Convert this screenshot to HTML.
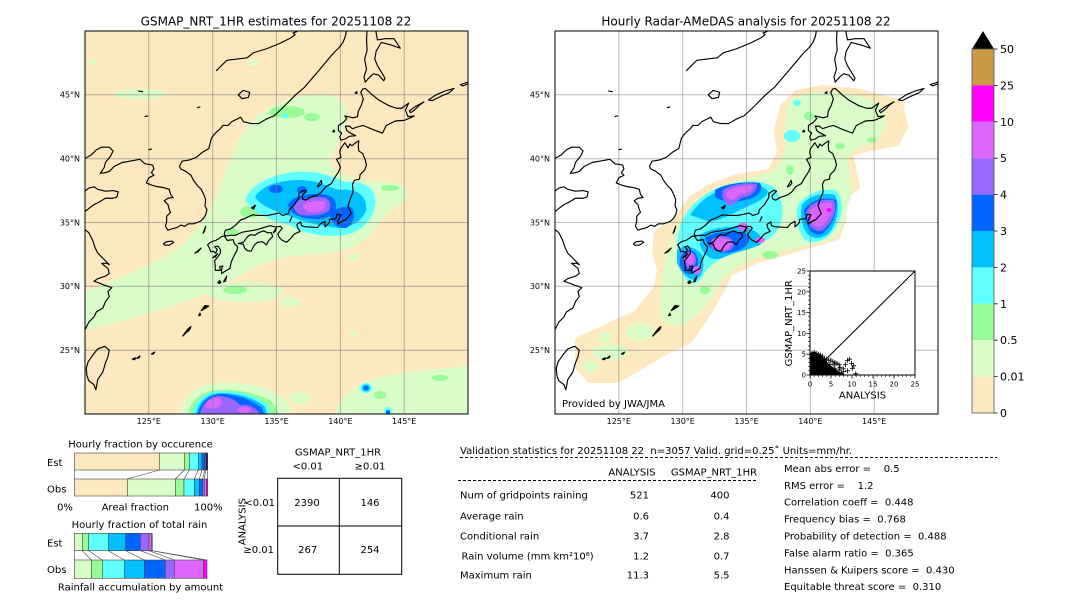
<!DOCTYPE html>
<html><head><meta charset="utf-8">
<style>
html,body{margin:0;padding:0;background:#fff;}
svg{display:block;font-family:"DejaVu Sans","Liberation Sans",sans-serif;}
</style></head><body>
<svg width="1080" height="612" viewBox="0 0 1080 612" xmlns="http://www.w3.org/2000/svg">
<defs>
<clipPath id="cl"><rect x="85" y="31" width="383" height="383"/></clipPath>
<clipPath id="cr"><rect x="555" y="31" width="383" height="383"/></clipPath>
<g id="coast" fill="none" stroke="#000" stroke-width="0.09" stroke-linejoin="round" stroke-linecap="round">
<path d="M120,26.6 L120.3,27.2 L120.7,27.6 L120.9,28 L121.4,28.3 L121.6,28.8 L121.9,29.2 L121.8,29.6 L122.1,29.9 L121.5,30.1 L121,30.3 L120.7,30.4 L121,30.6 L121.6,30.8 L121.9,31 L121.8,31.4 L121.3,31.8 L121.7,31.8 L121.9,31.7 L121.5,32.1 L121,32.6 L120.8,33 L120.6,33.6 L120.3,34.2 L119.8,34.6"/>
<path d="M119.7,35.6 L120.3,36.1 L120.7,36.4 L121.1,36.6 L121.6,36.9 L122.2,36.9 L122.5,37 L122.6,37.4 L122.2,37.5 L121.6,37.45 L121,37.6 L120.7,37.8 L120.3,37.7 L119.8,37.3"/>
<path d="M119.8,39.9 L120.5,40.3 L120.9,40.7 L121.3,40.9 L121.9,40.9 L122.2,40.6 L122,40.2 L121.6,39.7 L121.5,39.3 L121.2,38.85 L121.6,38.9 L121.9,39 L122.3,39.4 L122.9,39.7 L123.5,39.8 L124.3,39.95 L124.7,39.6 L125.3,39.5 L125.4,39.2 L125.2,38.9 L125.4,38.7 L125,38.5 L124.8,38.1 L125.3,37.9 L125.7,37.8 L126.1,37.75 L126.6,37.6 L126.7,37.2 L126.9,36.95 L126.5,36.9 L126.2,36.7 L126.5,36.4 L126.6,36 L126.7,35.8 L126.4,35.5 L126.4,35.1 L126.3,34.7 L126.5,34.4 L126.8,34.5 L127.2,34.6 L127.5,34.8 L127.8,34.7 L128.1,34.9 L128.5,34.9 L128.8,35 L129.05,35.1 L129.3,35.35 L129.45,35.6 L129.55,36 L129.4,36.3 L129.45,36.8 L129.3,37.2 L129.1,37.6 L128.8,37.9 L128.5,38.3 L128.3,38.7 L127.9,39 L127.5,39.2 L127.4,39.4 L127.6,39.8 L128.2,39.9 L128.7,40.1 L129.2,40.5 L129.7,40.8 L129.8,41.2 L129.9,41.6 L130.2,42 L130.6,42.35 L130.8,42.6 L131.2,42.6 L131.5,42.9 L131.9,43.1 L132.2,43.25 L132.4,42.9 L133,42.75 L133.6,42.75 L134.2,43.1 L134.8,43.35 L135.4,43.9 L135.9,44.4 L136.5,45 L137.2,45.6 L137.8,46.3 L138.4,47 L138.9,47.6 L139.4,48.2 L139.9,48.7 L140.2,49.1 L140.4,49.6 L140.5,50.2"/>
<path d="M130.3,46.9 L131.1,47.7 L131.9,47.8 L132.7,47.9 L133.2,48.3 L134.2,48.6 L135.3,49.05 L136.1,49.45 L136.45,49.7 L136.3,49.85 L136.6,49.95 L136.7,50.2"/>
<path d="M132,45 L132.4,45.35 L132.9,45.2 L132.8,44.8 L132.3,44.7 Z"/>
<path d="M141.45,41.4 L141.2,41.25 L140.9,41 L140.75,41.15 L140.6,40.85 L140.35,41.25 L140,40.75 L139.95,40.5 L140.05,40.1 L139.7,39.95 L139.9,39.6 L140,39.3 L139.85,38.95 L139.55,38.5 L139.3,38.05 L138.85,37.8 L138.55,37.4 L138.2,37.15 L137.6,36.95 L137.3,36.75 L137.05,36.85 L137,37.1 L137.35,37.45 L137.15,37.52 L136.75,37.3 L136.75,36.95 L136.4,36.4 L136,36 L135.95,35.7 L135.5,35.55 L135.2,35.75 L134.8,35.65 L134.3,35.55 L133.6,35.55 L133.1,35.6 L132.6,35.35 L132.2,35.2 L131.8,34.8 L131.4,34.5 L131,34.4 L130.9,34.1 L131,33.95 L131.4,34 L131.8,34 L132.2,34.2 L132.6,34.3 L133,34.35 L133.5,34.45 L134,34.6 L134.5,34.75 L134.9,34.65 L135.3,34.7 L135.45,34.55 L135.25,34.3 L135.1,34.1 L135.2,33.85 L135.45,33.6 L135.8,33.45 L136.1,33.75 L136.4,34.1 L136.85,34.3 L136.65,34.6 L136.6,34.85 L136.9,35.05 L136.95,34.75 L137.3,34.65 L137.6,34.65 L138.2,34.6 L138.45,34.9 L138.8,35.1 L138.8,34.65 L139.15,35 L139.15,35.25 L139.65,35.3 L139.75,35.65 L140.05,35.6 L139.8,35.1 L139.85,34.9 L140.15,35.1 L140.4,35.2 L140.85,35.7 L140.6,36.3 L140.8,36.9 L141,37.4 L140.95,38 L141.1,38.3 L141.5,38.4 L141.55,38.75 L141.9,39.1 L142.05,39.5 L141.95,39.9 L141.75,40.4 L141.45,40.6 L141.4,41 Z"/>
<path d="M141.2,41.8 L140.7,41.75 L140.4,41.55 L140.05,41.45 L139.95,41.7 L140.1,42 L139.85,42.2 L139.85,42.6 L140.25,42.85 L140.5,43.15 L140.35,43.35 L141,43.2 L141.35,43.3 L141.4,43.7 L141.65,44.2 L141.8,44.7 L141.6,45.2 L141.75,45.45 L141.95,45.5 L142.5,45 L143,44.6 L143.8,44.15 L144.4,43.95 L144.8,43.95 L145.35,44.35 L145.1,43.8 L145.3,43.3 L145.8,43.35 L145.5,43.2 L145,43 L144.3,42.95 L143.6,42.6 L143.3,42 L142.5,42.3 L141.8,42.6 L141.4,42.5 L140.95,42.35 L140.7,42.55 L140.4,42.55 L140.5,42.2 L140.7,42.05 Z"/>
<path d="M130.9,33.95 L131.15,33.6 L131.6,33.65 L131.7,33.35 L131.95,33.1 L131.9,32.8 L131.7,32.45 L131.45,31.9 L131.35,31.4 L131,31.2 L130.7,31 L130.7,31.35 L130.8,31.6 L130.55,31.55 L130.6,31.25 L130.2,31.25 L130.2,31.6 L130.15,32 L130.4,32.3 L130.6,32.6 L130.6,32.9 L130.4,33.15 L130.15,33.1 L130.35,32.9 L130.25,32.6 L130.05,32.75 L129.85,32.7 L129.75,33 L129.6,33.25 L129.9,33.5 L130.25,33.6 L130.5,33.75 L130.7,33.9 Z"/>
<path d="M132,33.35 L132.4,33.45 L132.7,33.85 L132.95,34.05 L133.3,34 L133.6,34.2 L134,34.35 L134.3,34.2 L134.6,34.2 L134.7,33.9 L134.4,33.6 L134.2,33.25 L133.9,33.5 L133.5,33.45 L133.25,33.2 L133,32.75 L132.7,32.8 L132.5,33 L132.4,33.3 Z"/>
<path d="M142.1,50.2 L142.05,49.3 L142.1,48.5 L141.9,47.8 L142.05,47 L141.85,46.4 L141.95,46 L142.3,46.4 L142.6,46.65 L143,46.55 L143.4,46.1 L143.5,46.3 L143.2,46.8 L142.9,47.3 L142.7,47.8 L142.8,48.4 L143.2,49.1 L144,48.9 L144.7,48.65 L144.2,49.4 L143.5,49.4 L142.9,49.3 L142.75,50.2"/>
<path d="M145.4,43.75 L145.9,44.1 L146.55,44.45 L146.2,44.2 L145.8,43.8 L145.5,43.6 Z"/>
<path d="M146.9,44.6 L147.5,45 L148.2,45.3 L148.9,45.5 L148.5,45.15 L147.9,44.9 L147.2,44.55 Z"/>
<path d="M149.4,45.8 L150,46 L150.5,46.25 L150.2,45.95 L149.6,45.7 Z"/>
<path d="M121,25.1 L121.55,25.3 L121.9,25 L121.8,24.5 L121.6,24 L121.4,23.3 L121,22.7 L120.85,21.9 L120.7,22.3 L120.3,22.6 L120.15,23 L120.1,23.6 L120.25,24.1 L120.6,24.6 Z"/>
<path d="M138.2,37.8 L138.5,38.3 L138.55,38.05 L138.35,37.85 Z"/>
<path d="M136.05,35.1 L136.2,35.45 L136.1,35.2 Z"/>
<g fill="#000">
<path d="M126.15,33.35 L126.4,33.5 L126.8,33.55 L126.95,33.45 L126.6,33.22 L126.25,33.22 Z" fill="none"/>
<path d="M129.25,34.15 L129.45,34.7 L129.35,34.3 Z"/>
<path d="M133.05,36.15 L133.35,36.35 L133.2,36.05 Z"/>
<path d="M134.75,34.2 L135,34.6 L134.9,34.3 Z"/>
<path d="M128.6,32.6 L129.1,33 L128.85,32.7 Z"/>
<path d="M130,32.25 L130.4,32.55 L130.2,32.3 Z"/>
<path d="M130.85,30.35 L131.1,30.8 L131,30.4 Z"/>
<path d="M130.4,30.3 L130.55,30.45 L130.65,30.3 L130.5,30.22 Z"/>
<path d="M129.1,28.1 L129.4,28.5 L129.7,28.45 L129.3,28.2 Z"/>
<path d="M128.9,27.7 L129,27.9 L129.05,27.75 Z"/>
<path d="M127.65,26.1 L127.9,26.45 L128.1,26.7 L128.3,26.85 L128.2,26.6 L127.85,26.3 Z"/>
<path d="M125.2,24.7 L125.45,24.85 L125.35,24.7 Z"/>
<path d="M124.05,24.35 L124.3,24.55 L124.25,24.4 Z"/>
<path d="M123.7,24.3 L123.95,24.4 L123.9,24.25 Z"/>
<path d="M141.15,45.15 L141.3,45.25 L141.3,45.1 Z"/>
<path d="M139.4,42.1 L139.5,42.25 L139.55,42.1 Z"/>
<path d="M124.2,45.3 L124.5,45.25"/>
<path d="M124.7,43.3 L124.9,43.35"/>
<path d="M128.8,44 L129,44.05"/>
<path d="M125,40.7 L125.2,40.75"/>
</g>
</g>
</defs>

<!-- Titles -->
<text x="276" y="25.3" font-size="12" text-anchor="middle">GSMAP_NRT_1HR estimates for 20251108 22</text>
<text x="746" y="25.3" font-size="12" text-anchor="middle">Hourly Radar-AMeDAS analysis for 20251108 22</text>

<!-- LEFT MAP -->
<g clip-path="url(#cl)">
<rect x="85" y="31" width="383" height="383" fill="#fde8bf"/>
<g fill="#d9fcc9">
<path d="M85,292 C110,282 145,268 172,252 C195,238 208,215 218,192 C226,170 234,145 248,126 C262,108 285,98 310,95 C330,93 348,98 347,115 C346,132 333,148 330,163 C336,176 362,181 387,182 C402,183 412,190 406,199 C397,209 382,214 376,227 C369,240 352,248 336,252 C315,255 292,254 270,261 C246,270 222,288 192,299 C160,311 120,322 85,330 Z"/>
<ellipse cx="93" cy="62" rx="4" ry="3"/>
<ellipse cx="140" cy="94" rx="26" ry="5"/>
<ellipse cx="254" cy="63" rx="5" ry="3"/>
<ellipse cx="245" cy="292" rx="38" ry="10"/>
<ellipse cx="290" cy="302" rx="10" ry="5"/>
<ellipse cx="353" cy="333" rx="3" ry="3"/>
<ellipse cx="354" cy="257" rx="5" ry="4"/>
<path d="M180,414 C182,398 195,385 215,383 C240,381 265,385 280,395 C290,402 292,410 290,414 Z"/>
<ellipse cx="300" cy="398" rx="10" ry="6"/>
<path d="M335,414 C340,395 360,380 390,375 C420,370 450,368 468,366 L468,414 Z"/>
</g>
<g fill="#98fb98">
<ellipse cx="287" cy="112" rx="18" ry="6"/>
<ellipse cx="312" cy="117" rx="8" ry="4"/>
<ellipse cx="250" cy="212" rx="10" ry="6"/>
<ellipse cx="232" cy="232" rx="6" ry="4"/>
<ellipse cx="364" cy="203" rx="8" ry="12"/>
<ellipse cx="390" cy="188" rx="9" ry="3"/>
<ellipse cx="235" cy="290" rx="12" ry="4"/>
<ellipse cx="380" cy="395" rx="6" ry="4"/>
<ellipse cx="440" cy="378" rx="8" ry="3"/>
<path d="M188,414 C190,402 200,392 215,390 C235,389 258,392 272,402 C278,408 278,414 278,414 Z"/>
</g>
<g fill="#60ffff">
<ellipse cx="285" cy="116" rx="3" ry="2.5"/>
<path d="M245,200 C250,185 270,175 295,172 C320,170 335,178 345,182 C365,180 378,190 375,205 C372,222 360,232 345,235 C320,238 300,232 290,225 C275,222 255,215 245,200 Z"/>
<path d="M192,414 C195,400 205,392 220,391 C240,391 258,396 268,405 L270,414 Z"/>
<ellipse cx="366" cy="388" rx="6" ry="5"/>
<ellipse cx="388" cy="411" rx="4" ry="4"/>
</g>
<g fill="#00c0ff">
<path d="M255,197 C262,185 280,180 300,180 C318,180 330,188 340,190 C355,188 368,195 366,210 C362,222 350,228 338,228 C320,226 305,222 295,218 C280,212 262,208 255,197 Z"/>
<path d="M196,414 C198,402 207,394 220,393 C238,393 255,398 265,407 L267,414 Z"/>
<ellipse cx="366" cy="388" rx="4" ry="3.5"/>
</g>
<g fill="#0066ff">
<ellipse cx="276" cy="189" rx="7" ry="4"/>
<ellipse cx="302" cy="190" rx="5" ry="4"/>
<path d="M288,205 C292,196 305,194 318,194 C330,194 337,198 336,208 C334,216 325,220 312,219 C300,218 290,214 288,205 Z"/>
<path d="M330,215 C334,208 345,205 352,208 C356,214 354,224 346,228 C338,229 331,223 330,215 Z"/>
<path d="M198,414 C200,403 208,395 220,394 C236,394 252,400 262,408 L264,414 Z"/>
<ellipse cx="366" cy="388" rx="2.5" ry="2"/>
<ellipse cx="388" cy="412" rx="2" ry="2"/>
</g>
<g fill="#9966ff">
<path d="M294,205 C298,198 310,197 322,197 C330,198 332,205 329,211 C322,216 310,216 300,215 C295,212 293,208 294,205 Z"/>
<path d="M200,414 C202,405 208,397 218,396 C228,396 236,400 240,405 C248,404 256,407 260,414 Z"/>
</g>
<g fill="#dd66ff">
<path d="M303,206 C306,201 316,201 324,201 C327,205 325,210 318,212 C310,213 304,211 303,206 Z"/>
<path d="M205,406 C207,400 214,397 220,398 C224,401 222,406 216,408 C211,409 206,409 205,406 Z"/>
<ellipse cx="244" cy="410" rx="7" ry="3"/>
</g>
<g stroke="#7a7a7a" stroke-opacity="0.55" stroke-width="1">
<line x1="148.8" y1="31" x2="148.8" y2="414"/><line x1="212.7" y1="31" x2="212.7" y2="414"/><line x1="276.5" y1="31" x2="276.5" y2="414"/><line x1="340.4" y1="31" x2="340.4" y2="414"/><line x1="404.2" y1="31" x2="404.2" y2="414"/>
<line x1="85" y1="94.8" x2="468" y2="94.8"/><line x1="85" y1="158.7" x2="468" y2="158.7"/><line x1="85" y1="222.5" x2="468" y2="222.5"/><line x1="85" y1="286.3" x2="468" y2="286.3"/><line x1="85" y1="350.2" x2="468" y2="350.2"/>
</g>
<use href="#coast" transform="translate(85,31) scale(12.767,-12.767) translate(-120,-50)"/>
</g>
<rect x="85" y="31" width="383" height="383" fill="none" stroke="#000" stroke-width="1"/>
<g font-size="8" text-anchor="end">
<text x="80" y="97.7">45°N</text><text x="80" y="161.6">40°N</text><text x="80" y="225.4">35°N</text><text x="80" y="289.2">30°N</text><text x="80" y="353.1">25°N</text>
</g>
<g font-size="8" text-anchor="middle">
<text x="148.8" y="424">125°E</text><text x="212.7" y="424">130°E</text><text x="276.5" y="424">135°E</text><text x="340.4" y="424">140°E</text><text x="404.2" y="424">145°E</text>
</g>

<!-- RIGHT MAP -->
<g clip-path="url(#cr)">
<rect x="555" y="31" width="383" height="383" fill="#fff"/>
<path fill="#fde8bf" stroke="#fde8bf" stroke-width="6" stroke-linejoin="round" d="M578,340 L600,330 L637,313 L657,287 L660,270 L655,253 L657,233 L677,220 L690,200 L710,187 L737,177 L770,172 L780,153 L777,130 L783,107 L797,93 L823,88 L860,92 L900,103 L905,127 L897,143 L870,148 L850,153 L853,167 L857,187 L843,197 L843,220 L837,237 L817,243 L803,247 L783,253 L757,260 L730,273 L723,287 L710,310 L690,340 L663,353 L640,367 L617,380 L590,380 L578,367 Z"/>
<g fill="#d9fcc9">
<path d="M662,318 C658,300 662,280 665,262 C668,240 678,222 695,205 C712,192 735,180 760,175 C775,172 782,165 785,150 C786,135 784,115 790,100 C800,93 820,91 840,93 C860,95 878,100 885,110 C888,125 882,138 872,143 C860,147 850,150 848,160 C850,175 855,190 848,205 C845,220 842,232 830,240 C815,246 795,248 775,252 C755,258 735,265 722,280 C715,295 705,310 690,320 C680,328 667,328 662,318 Z"/>
<ellipse cx="610" cy="352" rx="18" ry="8"/>
<ellipse cx="640" cy="332" rx="14" ry="9"/>
<ellipse cx="590" cy="366" rx="8" ry="6"/>
<ellipse cx="605" cy="337" rx="7" ry="5"/>
</g>
<g fill="#98fb98">
<ellipse cx="809" cy="116" rx="5" ry="4"/>
<ellipse cx="872" cy="140" rx="5" ry="2.5"/>
<ellipse cx="840" cy="146" rx="5" ry="3"/>
<ellipse cx="790" cy="170" rx="4" ry="5"/>
<ellipse cx="705" cy="290" rx="5" ry="4"/>
<ellipse cx="770" cy="255" rx="8" ry="4"/>
</g>
<g fill="#60ffff">
<ellipse cx="792" cy="136" rx="8" ry="6"/>
<ellipse cx="797" cy="103" rx="4" ry="3"/>
<path d="M680,225 C688,205 705,192 725,185 C745,180 765,180 775,188 C782,198 785,210 780,225 C775,238 760,245 745,248 C730,252 712,262 705,272 C700,282 695,285 688,282 C680,272 676,255 678,240 Z"/>
<path d="M798,205 C805,195 820,188 835,190 C845,198 843,215 835,228 C828,240 815,245 805,240 C798,232 795,218 798,205 Z"/>
</g>
<g fill="#00c0ff">
<path d="M690,215 C700,200 715,190 735,185 C752,182 765,185 768,192 C765,200 750,205 740,210 C730,215 720,220 710,222 Z"/>
<path d="M700,235 C710,228 730,225 748,228 C760,232 765,240 760,245 C748,250 735,252 722,258 C712,262 703,255 700,245 Z"/>
<path d="M677,250 C684,244 695,246 702,255 C705,265 703,276 696,280 C688,280 680,272 677,262 Z"/>
<path d="M802,205 C808,196 822,192 835,195 C840,205 838,220 830,232 C822,240 812,240 806,232 C801,224 800,214 802,205 Z"/>
</g>
<g fill="#0066ff">
<path d="M715,190 C725,184 745,181 760,183 C764,190 758,198 745,200 C735,203 722,202 715,197 Z"/>
<path d="M705,238 C715,231 735,230 748,234 C752,242 745,250 732,252 C720,255 708,250 705,238 Z"/>
<ellipse cx="689" cy="262" rx="9" ry="12"/>
<path d="M804,210 C810,200 825,196 836,200 C838,212 832,226 822,234 C813,237 805,228 804,210 Z"/>
</g>
<g fill="#9966ff">
<path d="M723,190 C731,184 748,182 757,184 C758,192 749,197 741,198 C736,203 732,207 727,204 C722,199 721,194 723,190 Z"/>
<ellipse cx="722" cy="244" rx="12" ry="8"/>
<ellipse cx="690" cy="260" rx="6" ry="8"/>
<path d="M806,212 C810,203 822,198 834,200 C838,210 832,223 823,230 C815,234 807,226 806,212 Z"/>
</g>
<g fill="#dd66ff">
<path d="M727,191 C734,187 746,185 753,186 C753,191 746,194 739,195 C735,199 732,201 729,199 C726,196 725,193 727,191 Z"/>
<ellipse cx="722" cy="244" rx="9" ry="6"/>
<ellipse cx="743" cy="227" rx="5" ry="4"/>
<ellipse cx="760" cy="240" rx="5" ry="3"/>
<ellipse cx="690" cy="258" rx="4" ry="6"/>
<ellipse cx="697" cy="270" rx="4" ry="4"/>
<path d="M809,213 C812,206 822,202 831,203 C834,210 829,220 822,226 C815,229 810,223 809,213 Z"/>
</g>
<ellipse cx="829" cy="210" rx="2.5" ry="2" fill="#ff00ff"/>
<g stroke="#7a7a7a" stroke-opacity="0.5" stroke-width="1">
<line x1="618.8" y1="31" x2="618.8" y2="414"/><line x1="682.7" y1="31" x2="682.7" y2="414"/><line x1="746.5" y1="31" x2="746.5" y2="414"/><line x1="810.4" y1="31" x2="810.4" y2="414"/><line x1="874.2" y1="31" x2="874.2" y2="414"/>
<line x1="555" y1="94.8" x2="938" y2="94.8"/><line x1="555" y1="158.7" x2="938" y2="158.7"/><line x1="555" y1="222.5" x2="938" y2="222.5"/><line x1="555" y1="286.3" x2="938" y2="286.3"/><line x1="555" y1="350.2" x2="938" y2="350.2"/>
</g>
<use href="#coast" transform="translate(555,31) scale(12.767,-12.767) translate(-120,-50)"/>
<text x="562" y="407" font-size="10">Provided by JWA/JMA</text>
</g>
<rect x="555" y="31" width="383" height="383" fill="none" stroke="#000" stroke-width="1"/>
<g font-size="8" text-anchor="end">
<text x="550" y="97.7">45°N</text><text x="550" y="161.6">40°N</text><text x="550" y="225.4">35°N</text><text x="550" y="289.2">30°N</text><text x="550" y="353.1">25°N</text>
</g>
<g font-size="8" text-anchor="middle">
<text x="618.8" y="424">125°E</text><text x="682.7" y="424">130°E</text><text x="746.5" y="424">135°E</text><text x="810.4" y="424">140°E</text><text x="874.2" y="424">145°E</text>
</g>

<!-- Scatter inset -->
<rect x="810" y="271" width="105" height="104" fill="#fff" stroke="#000" stroke-width="1"/>
<line x1="810" y1="375" x2="915" y2="271" stroke="#000" stroke-width="1"/>
<path fill="#000" d="M810,375 L810,353 L814,352 L818,353 L821,355 L824,358 L827,362 L830,365 L834,368 L838,371 L842,373 L846,375 Z"/>
<path fill="none" stroke="#000" stroke-width="0.8" d="M809.6,353h5M812.1,350.5v5 M811.7,352.1h5M814.2,349.6v5 M813.7,353.4h5M816.2,350.9v5 M815.8,354.2h5M818.3,351.7v5 M817.9,355h5M820.4,352.5v5 M820,356.3h5M822.5,353.8v5 M822.1,358.4h5M824.6,355.9v5 M824.1,359.2h5M826.6,356.7v5 M826.2,360.4h5M828.7,357.9v5 M828.3,360h5M830.8,357.5v5 M830.4,361.7h5M832.9,359.2v5 M832.5,362.5h5M835,360v5 M834.5,363.4h5M837,360.9v5 M836.6,364.6h5M839.1,362.1v5 M832.5,368.8h5M835,366.3v5 M836.6,370h5M839.1,367.5v5 M840.8,371.7h5M843.3,369.2v5 M842.9,364.6h5M845.4,362.1v5 M844.9,360.4h5M847.4,357.9v5 M847,359.2h5M849.5,356.7v5 M849.1,363.4h5M851.6,360.9v5 M851.2,365.8h5M853.7,363.3v5 M840.8,368.8h5M843.3,366.3v5 M844.9,370.8h5M847.4,368.3v5 M853.3,373.8h5M855.8,371.3v5 M838.7,372.9h5M841.2,370.4v5 M837.5,367.5h5M840,365v5 M849.9,368.3h5M852.4,365.8v5 M831.6,365h5M834.1,362.5v5 M827.5,364.2h5M830,361.7v5"/>
<g stroke="#000" stroke-width="0.8">
<path d="M810,375h-3.5M810,354.2h-3.5M810,333.4h-3.5M810,312.6h-3.5M810,291.8h-3.5M810,271h-3.5"/>
<path d="M810,375v3.5M831,375v3.5M852,375v3.5M873,375v3.5M894,375v3.5M915,375v3.5"/>
<path stroke-width="0.6" d="M810,370.8h-2M810,366.7h-2M810,362.5h-2M810,358.4h-2M810,350h-2M810,345.9h-2M810,341.7h-2M810,337.6h-2M810,329.2h-2M810,325.1h-2M810,320.9h-2M810,316.8h-2M810,308.4h-2M810,304.3h-2M810,300.1h-2M810,296h-2M810,287.6h-2M810,283.5h-2M810,279.3h-2M810,275.2h-2 M814.2,375v2M818.4,375v2M822.6,375v2M826.8,375v2M835.2,375v2M839.4,375v2M843.6,375v2M847.8,375v2M856.2,375v2M860.4,375v2M864.6,375v2M868.8,375v2M877.2,375v2M881.4,375v2M885.6,375v2M889.8,375v2M898.2,375v2M902.4,375v2M906.6,375v2M910.8,375v2"/>
</g>
<g font-size="7" text-anchor="end">
<text x="806" y="377.5">0</text><text x="806" y="356.7">5</text><text x="806" y="335.9">10</text><text x="806" y="315.1">15</text><text x="806" y="294.3">20</text><text x="806" y="273.5">25</text>
</g>
<g font-size="7" text-anchor="middle">
<text x="810" y="386.5">0</text><text x="831" y="386.5">5</text><text x="852" y="386.5">10</text><text x="873" y="386.5">15</text><text x="894" y="386.5">20</text><text x="915" y="386.5">25</text>
</g>
<text x="862.5" y="398.6" font-size="10" text-anchor="middle">ANALYSIS</text>
<text transform="translate(791.9,323.3) rotate(-90)" font-size="10" text-anchor="middle">GSMAP_NRT_1HR</text>

<!-- Colorbar -->
<polygon points="972,49 994,49 983,31" fill="#000"/>
<rect x="972" y="49" width="22" height="36.4" fill="#cc9944"/>
<rect x="972" y="85.4" width="22" height="36.4" fill="#ff00ff"/>
<rect x="972" y="121.8" width="22" height="36.4" fill="#dd66ff"/>
<rect x="972" y="158.2" width="22" height="36.4" fill="#9966ff"/>
<rect x="972" y="194.6" width="22" height="36.4" fill="#0066ff"/>
<rect x="972" y="231" width="22" height="36.4" fill="#00c0ff"/>
<rect x="972" y="267.4" width="22" height="36.4" fill="#60ffff"/>
<rect x="972" y="303.8" width="22" height="36.4" fill="#98fb98"/>
<rect x="972" y="340.2" width="22" height="36.4" fill="#d9fcc9"/>
<rect x="972" y="376.6" width="22" height="36.4" fill="#fde8bf"/>
<rect x="972" y="49" width="22" height="364" fill="none" stroke="#555" stroke-width="0.8"/>
<path stroke="#000" stroke-width="0.8" d="M994,49h3.5M994,85.4h3.5M994,121.8h3.5M994,158.2h3.5M994,194.6h3.5M994,231h3.5M994,267.4h3.5M994,303.8h3.5M994,340.2h3.5M994,376.6h3.5M994,413h3.5"/>
<g font-size="11">
<text x="1000" y="53">50</text><text x="1000" y="89.4">25</text><text x="1000" y="125.8">10</text><text x="1000" y="162.2">5</text><text x="1000" y="198.6">4</text><text x="1000" y="235">3</text><text x="1000" y="271.4">2</text><text x="1000" y="307.8">1</text><text x="1000" y="344.2">0.5</text><text x="1000" y="380.6">0.01</text><text x="1000" y="417">0</text>
</g>

<!-- Bottom-left fraction charts -->
<g font-size="10">
<text x="140.5" y="447.6" text-anchor="middle">Hourly fraction by occurence</text>
<text x="47" y="466.1">Est</text>
<text x="47" y="492.6">Obs</text>
<text x="65" y="510.3" text-anchor="middle">0%</text>
<text x="135.3" y="510.3" text-anchor="middle">Areal fraction</text>
<text x="208.3" y="510.3" text-anchor="middle">100%</text>
<text x="139.5" y="527.9" text-anchor="middle">Hourly fraction of total rain</text>
<text x="47" y="546.3">Est</text>
<text x="47" y="572.9">Obs</text>
<text x="140.5" y="590.3" text-anchor="middle">Rainfall accumulation by amount</text>
</g>
<g stroke="#444" stroke-width="0.6">
<rect x="74.3" y="453" width="85" height="17" fill="#fde8bf"/>
<rect x="159.3" y="453" width="25" height="17" fill="#d9fcc9"/>
<rect x="184.3" y="453" width="5" height="17" fill="#98fb98"/>
<rect x="189.3" y="453" width="9" height="17" fill="#60ffff"/>
<rect x="198.3" y="453" width="3.7" height="17" fill="#00c0ff"/>
<rect x="202" y="453" width="2.7" height="17" fill="#0066ff"/>
<rect x="204.7" y="453" width="1" height="17" fill="#9966ff"/>
<rect x="205.7" y="453" width="2" height="17" fill="#1a1a60"/>
<rect x="74.3" y="479" width="53" height="17" fill="#fde8bf"/>
<rect x="127.3" y="479" width="48" height="17" fill="#d9fcc9"/>
<rect x="175.3" y="479" width="8.7" height="17" fill="#98fb98"/>
<rect x="184" y="479" width="10.3" height="17" fill="#60ffff"/>
<rect x="194.3" y="479" width="5" height="17" fill="#00c0ff"/>
<rect x="199.3" y="479" width="3.4" height="17" fill="#0066ff"/>
<rect x="202.7" y="479" width="1.6" height="17" fill="#9966ff"/>
<rect x="204.3" y="479" width="2" height="17" fill="#dd66ff"/>
<rect x="206.3" y="479" width="1.4" height="17" fill="#ff00ff"/>
<path fill="none" d="M74.3,470L74.3,479M159.3,470L127.3,479M184.3,470L175.3,479M189.3,470L184,479M198.3,470L194.3,479M202,470L199.3,479M204.7,470L202.7,479M205.7,470L204.3,479M207.7,470L207.7,479"/>
<rect x="74.3" y="533.3" width="8" height="17.4" fill="#d9fcc9"/>
<rect x="82.3" y="533.3" width="6.4" height="17.4" fill="#98fb98"/>
<rect x="88.7" y="533.3" width="19.6" height="17.4" fill="#60ffff"/>
<rect x="108.3" y="533.3" width="17.4" height="17.4" fill="#00c0ff"/>
<rect x="125.7" y="533.3" width="14.6" height="17.4" fill="#0066ff"/>
<rect x="140.3" y="533.3" width="8.7" height="17.4" fill="#9966ff"/>
<rect x="149" y="533.3" width="2.7" height="17.4" fill="#dd66ff"/>
<rect x="151.7" y="533.3" width="0.6" height="17.4" fill="#ff00ff"/>
<rect x="74.3" y="560" width="17" height="18.3" fill="#d9fcc9"/>
<rect x="91.3" y="560" width="11" height="18.3" fill="#98fb98"/>
<rect x="102.3" y="560" width="22" height="18.3" fill="#60ffff"/>
<rect x="124.3" y="560" width="20" height="18.3" fill="#00c0ff"/>
<rect x="144.3" y="560" width="21" height="18.3" fill="#0066ff"/>
<rect x="165.3" y="560" width="9" height="18.3" fill="#9966ff"/>
<rect x="174.3" y="560" width="29" height="18.3" fill="#dd66ff"/>
<rect x="203.3" y="560" width="3.7" height="18.3" fill="#ff00ff"/>
<path fill="none" d="M74.3,550.7L74.3,560M82.3,550.7L91.3,560M88.7,550.7L102.3,560M108.3,550.7L124.3,560M125.7,550.7L144.3,560M140.3,550.7L165.3,560M149,550.7L174.3,560M151.7,550.7L203.3,560M152.3,550.7L207,560"/>
</g>

<!-- Contingency table -->
<g font-size="10">
<text x="338" y="455.3" text-anchor="middle">GSMAP_NRT_1HR</text>
<text x="307.8" y="469.6" text-anchor="middle">&lt;0.01</text>
<text x="370" y="469.6" text-anchor="middle">≥0.01</text>
<text x="307" y="505.9" text-anchor="middle">2390</text>
<text x="370" y="505.9" text-anchor="middle">146</text>
<text x="307.7" y="552.9" text-anchor="middle">267</text>
<text x="370" y="552.9" text-anchor="middle">254</text>
<text x="275" y="505.9" text-anchor="end">&lt;0.01</text>
<text x="274" y="552.9" text-anchor="end">≥0.01</text>
<text transform="translate(245.3,521.7) rotate(-90)" text-anchor="middle">ANALYSIS</text>
</g>
<rect x="277.7" y="478.3" width="124" height="96" fill="none" stroke="#000" stroke-width="1"/>
<line x1="339.3" y1="478.3" x2="339.3" y2="574.3" stroke="#000" stroke-width="1"/>
<line x1="277.7" y1="526" x2="401.7" y2="526" stroke="#000" stroke-width="1"/>

<!-- Validation statistics -->
<g font-size="10">
<text x="460" y="454">Validation statistics for 20251108 22&#160;&#160;n=3057 Valid. grid=0.25˚ Units=mm/hr.</text>
<text x="632" y="475.3" text-anchor="middle">ANALYSIS</text>
<text x="714" y="475.3" text-anchor="middle">GSMAP_NRT_1HR</text>
<text x="460" y="498.6">Num of gridpoints raining</text>
<text x="460" y="519.3">Average rain</text>
<text x="460" y="539.3">Conditional rain</text>
<text x="461.5" y="559.3">Rain volume (mm km²10⁶)</text>
<text x="460" y="578.6">Maximum rain</text>
<text x="649" y="498.6" text-anchor="end">521</text>
<text x="649" y="519.3" text-anchor="end">0.6</text>
<text x="649" y="539.3" text-anchor="end">3.7</text>
<text x="649" y="559.3" text-anchor="end">1.2</text>
<text x="649" y="578.6" text-anchor="end">11.3</text>
<text x="729.5" y="498.6" text-anchor="end">400</text>
<text x="729.5" y="519.3" text-anchor="end">0.4</text>
<text x="729.5" y="539.3" text-anchor="end">2.8</text>
<text x="729.5" y="559.3" text-anchor="end">0.7</text>
<text x="729.5" y="578.6" text-anchor="end">5.5</text>
<text x="784" y="471.9">Mean abs error =&#160;&#160;&#160;&#160;0.5</text>
<text x="784" y="488.8">RMS error =&#160;&#160;&#160;&#160;1.2</text>
<text x="784" y="505.7">Correlation coeff =&#160;&#160;0.448</text>
<text x="784" y="522.6">Frequency bias =&#160;&#160;0.768</text>
<text x="784" y="539.5">Probability of detection =&#160;&#160;0.488</text>
<text x="784" y="556.4">False alarm ratio =&#160;&#160;0.365</text>
<text x="784" y="573.3">Hanssen &amp; Kuipers score =&#160;&#160;0.430</text>
<text x="784" y="590.2">Equitable threat score =&#160;&#160;0.310</text>
</g>
<line x1="460" y1="457.5" x2="997" y2="457.5" stroke="#000" stroke-width="1" stroke-dasharray="3,2"/>
<line x1="458" y1="480.5" x2="758" y2="480.5" stroke="#000" stroke-width="1" stroke-dasharray="3,2"/>
</svg>
</body></html>
